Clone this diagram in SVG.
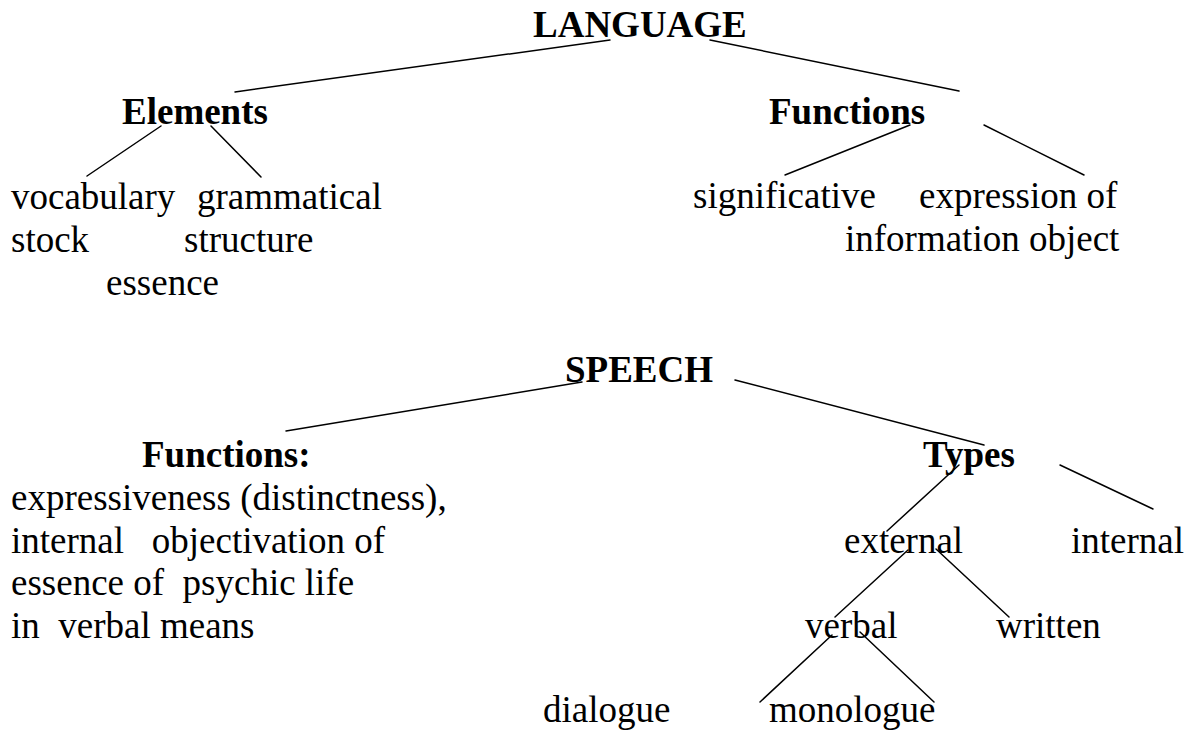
<svg xmlns="http://www.w3.org/2000/svg" width="1191" height="731" viewBox="0 0 1191 731">
  <style>
    text { font-family: "Liberation Serif", "Times New Roman", serif; font-size: 37px; fill: #000; white-space: pre; }
    .head { font-weight: bold; }
    #connectors line { stroke: #000; stroke-width: 1.5; stroke-linecap: round; }
  </style>
  <rect width="1191" height="731" fill="#fff"/>

  <g id="connectors">
    <!-- LANGUAGE branches -->
    <line x1="610" y1="40" x2="235" y2="92"/>
    <line x1="710" y1="40" x2="959" y2="91"/>
    <!-- Elements -->
    <line x1="161" y1="126" x2="87" y2="176"/>
    <line x1="211" y1="126" x2="261" y2="177"/>
    <!-- Functions (language) -->
    <line x1="910" y1="125" x2="785" y2="175"/>
    <line x1="984" y1="125" x2="1084" y2="175"/>
    <!-- SPEECH branches -->
    <line x1="582" y1="382" x2="286" y2="431"/>
    <line x1="735" y1="380" x2="984" y2="445"/>
    <!-- Types -->
    <line x1="959" y1="465" x2="887" y2="531"/>
    <line x1="1060" y1="465" x2="1153" y2="509"/>
    <!-- external -->
    <line x1="908" y1="550" x2="835" y2="617"/>
    <line x1="936" y1="549" x2="1009" y2="617"/>
    <!-- verbal -->
    <line x1="832" y1="635" x2="760" y2="702"/>
    <line x1="860" y1="632" x2="934" y2="702"/>
  </g>

  <!-- Language tree -->
  <g id="language"><text class="head" x="533" y="37">LANGUAGE</text></g>
  <g id="elements"><text class="head" x="122" y="124">Elements</text></g>
  <g id="lang-functions"><text class="head" x="769" y="124">Functions</text></g>
  <g id="vocabulary-stock">
    <text x="11" y="209">vocabulary</text>
    <text x="11" y="252">stock</text>
  </g>
  <g id="grammatical-structure">
    <text x="197" y="209">grammatical</text>
    <text x="184" y="252">structure</text>
  </g>
  <g id="essence"><text x="106" y="295">essence</text></g>
  <g id="significative"><text x="693" y="208">significative</text></g>
  <g id="expression">
    <text x="919" y="208">expression of</text>
    <text x="845" y="251">information object</text>
  </g>

  <!-- Speech tree -->
  <g id="speech"><text class="head" x="565" y="382">SPEECH</text></g>
  <g id="speech-functions">
    <text class="head" x="142" y="467">Functions:</text>
    <text x="11" y="510">expressiveness (distinctness),</text>
    <text x="11" y="553">internal   objectivation of</text>
    <text x="11" y="595">essence of  psychic life</text>
    <text x="11" y="638">in  verbal means</text>
  </g>
  <g id="types"><text class="head" x="923" y="467">Types</text></g>
  <g id="external"><text x="844" y="553">external</text></g>
  <g id="internal"><text x="1071" y="553">internal</text></g>
  <g id="verbal"><text x="805" y="638">verbal</text></g>
  <g id="written"><text x="996" y="638">written</text></g>
  <g id="dialogue"><text x="543" y="722">dialogue</text></g>
  <g id="monologue"><text x="769" y="722">monologue</text></g>
</svg>
